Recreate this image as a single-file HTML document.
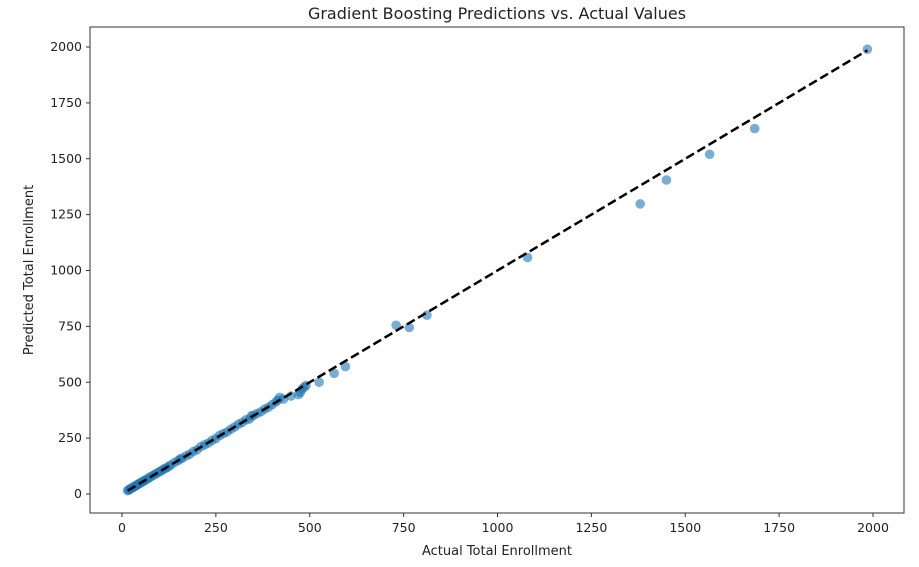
<!DOCTYPE html>
<html><head><meta charset="utf-8"><style>
body{margin:0;background:#fff;font-family:"Liberation Sans","DejaVu Sans",sans-serif;}
svg text{font-family:"DejaVu Sans","Liberation Sans",sans-serif;fill:#222;}
</style></head><body>
<svg id="chart" width="919" height="562">
<text x="497" y="19" text-anchor="middle" font-size="16">Gradient Boosting Predictions vs. Actual Values</text>
<g id="pts"></g>
<g id="axes"></g>
<text x="497" y="555" text-anchor="middle" font-size="13">Actual Total Enrollment</text>
<text transform="translate(33,270) rotate(-90)" text-anchor="middle" font-size="13">Predicted Total Enrollment</text>
</svg>
<script>
const actual=[15,18,20,22,25,28,30,33,35,38,40,43,45,48,50,55,58,60,65,70,75,80,85,90,95,100,105,110,115,120,125,130,140,150,155,160,170,180,190,200,210,220,230,240,250,260,270,280,290,300,310,320,330,340,345,350,360,370,380,390,400,410,415,420,430,450,470,475,480,485,490,525,565,595,730,765,812,1080,1380,1450,1565,1685,1985];
const predicted=[15,18,21,23,25,28,31,33,36,38,41,43,46,48,51,55,58,61,65,70,76,80,86,90,95,100,104,110,115,118,124,130,141,150,157,160,170,178,190,198,212,220,228,240,248,262,270,278,290,300,312,320,332,336,350,352,360,368,380,388,400,412,420,432,425,438,445,455,470,478,485,500,540,570,755,745,800,1058,1298,1405,1520,1635,1990];
const xTicks=[0,250,500,750,1000,1250,1500,1750,2000];
const yTicks=[0,250,500,750,1000,1250,1500,1750,2000];
const L=90,R=904,T=27,B=513;
const sx=v=>122+v*0.3755, sy=v=>494-v*0.2235;
const NS='http://www.w3.org/2000/svg';
const pts=document.getElementById('pts'),ax=document.getElementById('axes');
actual.forEach((a,i)=>{const c=document.createElementNS(NS,'circle');
c.setAttribute('cx',sx(a));c.setAttribute('cy',sy(predicted[i]));c.setAttribute('r',4.8);
c.setAttribute('fill','#1f77b4');c.setAttribute('fill-opacity','0.6');


pts.appendChild(c);});
const ln=document.createElementNS(NS,'line');
ln.setAttribute('x1',sx(15));ln.setAttribute('y1',sy(15));ln.setAttribute('x2',sx(1985));ln.setAttribute('y2',sy(1985));
ln.setAttribute('stroke','#000');ln.setAttribute('stroke-width','2.5');ln.setAttribute('stroke-dasharray','9,4');


ax.appendChild(ln);
const fr=document.createElementNS(NS,'rect');
fr.setAttribute('x',L);fr.setAttribute('y',T);fr.setAttribute('width',R-L);fr.setAttribute('height',B-T);
fr.setAttribute('fill','none');fr.setAttribute('stroke','#333');


ax.appendChild(fr);
xTicks.forEach(t=>{const x=sx(t);
const l=document.createElementNS(NS,'line');l.setAttribute('x1',x);l.setAttribute('x2',x);l.setAttribute('y1',B);l.setAttribute('y2',B+4);l.setAttribute('stroke','#333');


ax.appendChild(l);
const tx=document.createElementNS(NS,'text');tx.setAttribute('x',x);tx.setAttribute('y',B+19);tx.setAttribute('text-anchor','middle');tx.setAttribute('font-size','12.5');tx.textContent=t;


ax.appendChild(tx);});
yTicks.forEach(t=>{const y=sy(t);
const l=document.createElementNS(NS,'line');l.setAttribute('x1',L-4);l.setAttribute('x2',L);l.setAttribute('y1',y);l.setAttribute('y2',y);l.setAttribute('stroke','#333');


ax.appendChild(l);
const tx=document.createElementNS(NS,'text');tx.setAttribute('x',L-8);tx.setAttribute('y',y+4);tx.setAttribute('text-anchor','end');tx.setAttribute('font-size','12.5');tx.textContent=t;


ax.appendChild(tx);});
</script>
</body></html>
